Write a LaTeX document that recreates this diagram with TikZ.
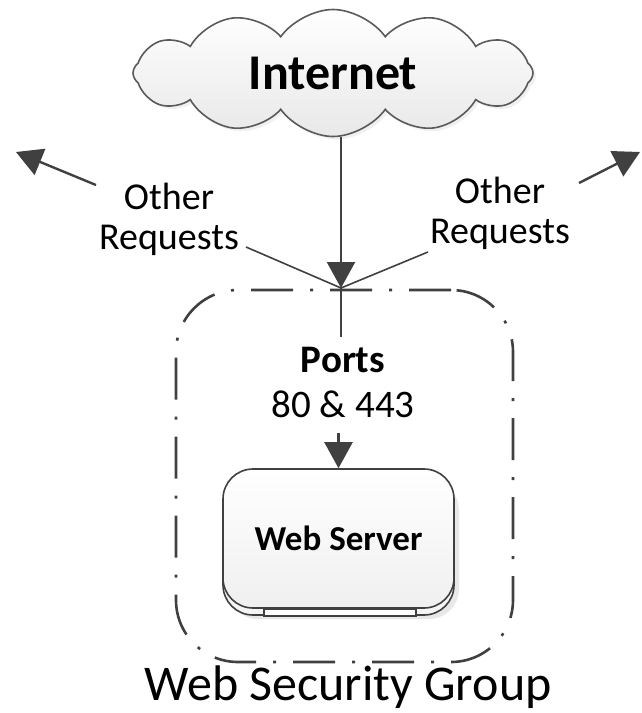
\documentclass[tikz,border=0pt]{standalone}
\usepackage{fontspec}
\setmainfont{Carlito}
\usetikzlibrary{arrows.meta,shapes.symbols,shadows}
\definecolor{linegray}{HTML}{404040}
\definecolor{edgegray}{HTML}{5A5A5A}

\tikzset{
  flow/.style={draw=linegray, line width=2.4pt, -{Triangle[length=26pt,width=28pt]}},
  wire/.style={draw=linegray, line width=1.6pt},
  reqtext/.style={align=center, inner sep=0pt, font=\fontsize{38}{40}\selectfont},
  cloudbox/.style={cloud, cloud puffs=12, cloud puff arc=110, aspect=3.15, draw=edgegray, line width=1.6pt,
    top color=white, bottom color=gray!18, minimum width=400pt, minimum height=127pt, inner sep=0pt,
    font=\fontsize{50}{52}\selectfont, drop shadow={opacity=0.12, shadow xshift=3pt, shadow yshift=-3pt}},
  group/.style={draw=linegray, line width=2.6pt, rounded corners=62pt,
    dash pattern=on 42pt off 17pt on 3pt off 17pt, minimum width=337pt, minimum height=372pt},
  server/.style={draw=linegray, line width=1.6pt, rounded corners=30pt, top color=white, bottom color=gray!12,
    minimum width=231pt, minimum height=139pt, font=\fontsize{35}{37}\selectfont}
}

\begin{document}
\begin{tikzpicture}
\useasboundingbox (0pt,0pt) rectangle (642pt,-713pt);
\node[cloudbox] (net) at (333pt,-73pt) {\textbf{Internet}};
\node[group] (sg) at (344.5pt,-476pt) {};
\node[anchor=base, font=\fontsize{50}{52}\selectfont] (sgname) at (348pt,-700pt) {Web Security Group};
\draw[draw=linegray, line width=1.6pt, rounded corners=30pt, fill=gray!8,
  drop shadow={opacity=0.18, shadow xshift=5pt, shadow yshift=-4pt}] (223pt,-476pt) rectangle (454pt,-615pt);
\node[server] (web) at (338.5pt,-538.5pt) {\textbf{Web Server}};
\draw[draw=linegray, line width=1.6pt, fill=white] ([xshift=42pt]web.south west) rectangle ([xshift=-39pt,yshift=-7pt]web.south east);
\node[reqtext] (otherL) at (169pt,-219pt) {Other\\Requests};
\node[reqtext] (otherR) at (500pt,-213pt) {Other\\Requests};
\node[reqtext, font=\fontsize{39}{45}\selectfont] (ports) at (343pt,-382pt) {\textbf{Ports}\\80 \& 443};
\coordinate (hub) at (341pt,-288pt);
\coordinate (lend) at (246pt,-247pt);
\coordinate (rend) at (428pt,-252pt);
\coordinate (lfoot) at (96pt,-185pt);
\coordinate (ltip) at (16pt,-152pt);
\coordinate (rfoot) at (579pt,-183pt);
\coordinate (rtip) at (640pt,-152pt);
\draw[flow] (net.south -| hub) -- (hub);
\draw[wire] (hub) -- (lend);
\draw[wire] (hub) -- (rend);
\draw[flow] (lfoot) -- (ltip);
\draw[flow] (rfoot) -- (rtip);
\draw[wire] (hub) -- ([yshift=10pt]ports.north -| hub);
\draw[flow] ([yshift=-16pt]ports.south -| web.north) -- (web.north);
\end{tikzpicture}
\end{document}
